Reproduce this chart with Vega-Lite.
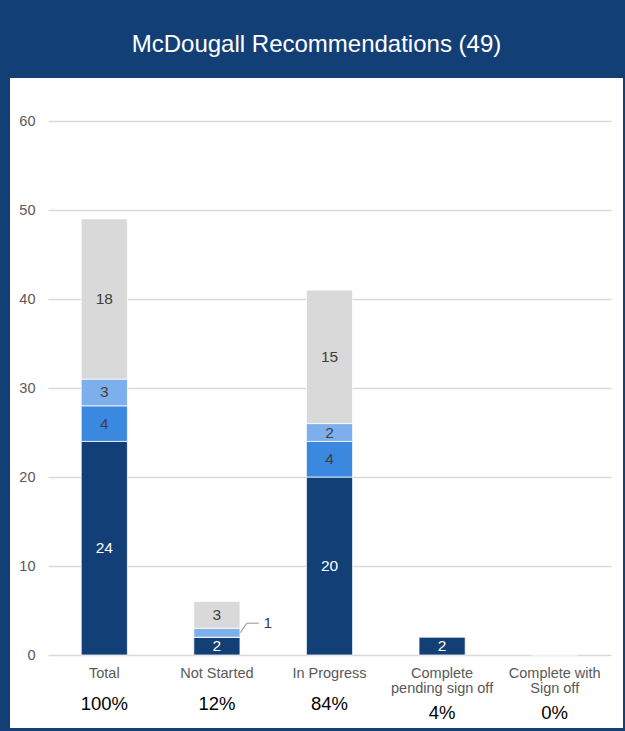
{
  "$schema": "https://vega.github.io/schema/vega-lite/v6.json",
  "width": 613,
  "height": 650,
  "autosize": {"type": "none"},
  "padding": {"left": 10, "top": 78, "right": 2, "bottom": 3},
  "background": "#133F77",
  "config": {
    "font": "Liberation Sans",
    "view": {"fill": "white", "stroke": null}
  },
  "title": {
    "text": "McDougall Recommendations (49)",
    "color": "white",
    "fontSize": 24,
    "fontWeight": "normal",
    "anchor": "middle",
    "baseline": "alphabetic",
    "offset": 2
  },
  "datasets": {
    "counts": [
      {"category": "Total", "series": "Series 1", "value": 24},
      {"category": "Total", "series": "Series 2", "value": 4},
      {"category": "Total", "series": "Series 3", "value": 3},
      {"category": "Total", "series": "Series 4", "value": 18},
      {"category": "Not Started", "series": "Series 1", "value": 2},
      {"category": "Not Started", "series": "Series 2", "value": 0},
      {"category": "Not Started", "series": "Series 3", "value": 1},
      {"category": "Not Started", "series": "Series 4", "value": 3},
      {"category": "In Progress", "series": "Series 1", "value": 20},
      {"category": "In Progress", "series": "Series 2", "value": 4},
      {"category": "In Progress", "series": "Series 3", "value": 2},
      {"category": "In Progress", "series": "Series 4", "value": 15},
      {"category": "Complete pending sign off", "series": "Series 1", "value": 2},
      {"category": "Complete with Sign off", "series": "Series 1", "value": 0}
    ],
    "share": [
      {"category": "Total", "pct": "100%"},
      {"category": "Not Started", "pct": "12%"},
      {"category": "In Progress", "pct": "84%"},
      {"category": "Complete pending sign off", "pct": "4%"},
      {"category": "Complete with Sign off", "pct": "0%"}
    ]
  },
  "data": {"name": "counts"},
  "layer": [
    {
      "mark": {"type": "bar", "stroke": "white", "strokeWidth": 0.75},
      "encoding": {
        "x": {
          "field": "category",
          "type": "nominal",
          "scale": {
            "domain": ["Total", "Not Started", "In Progress", "Complete pending sign off", "Complete with Sign off"],
            "range": [38, 601],
            "paddingInner": 0.59,
            "paddingOuter": 0.295
          },
          "axis": {
            "orient": "bottom",
            "offset": -73,
            "title": null,
            "domain": false,
            "ticks": false,
            "tickSize": 0,
            "grid": false,
            "labelAngle": 0,
            "labelPadding": 11,
            "labelFontSize": 14.5,
            "labelColor": "#595959",
            "labelLineHeight": 15.5,
            "labelExpr": "datum.value == 'Complete pending sign off' ? ['Complete', 'pending sign off'] : datum.value == 'Complete with Sign off' ? ['Complete with', 'Sign off'] : datum.value"
          }
        },
        "y": {
          "field": "value",
          "type": "quantitative",
          "stack": "zero",
          "scale": {"domain": [0, 60], "range": [577, 43], "nice": false, "zero": true},
          "axis": {
            "orient": "left",
            "offset": -38,
            "title": null,
            "values": [0, 10, 20, 30, 40, 50, 60],
            "grid": true,
            "gridColor": "#D9D9D9",
            "gridWidth": 1.5,
            "domain": false,
            "ticks": false,
            "tickSize": 0,
            "labelPadding": 13,
            "labelFontSize": 14.5,
            "labelColor": "#595959"
          }
        },
        "color": {
          "field": "series",
          "type": "nominal",
          "scale": {
            "domain": ["Series 1", "Series 2", "Series 3", "Series 4"],
            "range": ["#133F77", "#3B88E0", "#7CAFEC", "#D9D9D9"]
          },
          "legend": null
        },
        "order": {"field": "series", "sort": "ascending"}
      }
    },
    {
      "mark": {"type": "text", "fontSize": 15.5, "baseline": "middle"},
      "encoding": {
        "x": {"field": "category", "type": "nominal"},
        "y": {"field": "value", "type": "quantitative", "stack": "zero", "bandPosition": 0.5},
        "detail": {"field": "series"},
        "order": {"field": "series", "sort": "ascending"},
        "text": {"condition": {"test": "datum.value > 1", "field": "value", "type": "quantitative"}, "value": ""},
        "color": {"condition": {"test": "datum.series == 'Series 1'", "value": "white"}, "value": "#404040"}
      }
    },
    {
      "transform": [
        {"stack": "value", "groupby": ["category"], "sort": [{"field": "series", "order": "ascending"}], "as": ["v0", "v1"]},
        {"filter": "datum.value == 1"}
      ],
      "layer": [
        {
          "mark": {"type": "rule", "color": "#A6A6A6", "strokeWidth": 1.2, "xOffset": 23.5, "x2Offset": 30, "yOffset": -4.5, "y2Offset": -14},
          "encoding": {
            "x": {"field": "category", "type": "nominal"},
            "x2": {"field": "category"},
            "y": {"field": "v0", "type": "quantitative"},
            "y2": {"field": "v0"}
          }
        },
        {
          "mark": {"type": "rule", "color": "#A6A6A6", "strokeWidth": 1.2, "xOffset": 30, "x2Offset": 42, "yOffset": -14, "y2Offset": -14},
          "encoding": {
            "x": {"field": "category", "type": "nominal"},
            "x2": {"field": "category"},
            "y": {"field": "v0", "type": "quantitative"},
            "y2": {"field": "v0"}
          }
        },
        {
          "mark": {"type": "text", "fontSize": 15.5, "color": "#404040", "baseline": "middle", "dx": 51, "dy": -14},
          "encoding": {
            "x": {"field": "category", "type": "nominal"},
            "y": {"field": "v0", "type": "quantitative"},
            "text": {"field": "value", "type": "quantitative"}
          }
        }
      ]
    },
    {
      "data": {"name": "share"},
      "transform": [{"filter": "indexof(datum.category, 'Complete') < 0"}],
      "mark": {"type": "text", "fontSize": 18.5, "color": "#000000", "baseline": "alphabetic", "dy": 55},
      "encoding": {
        "x": {"field": "category", "type": "nominal"},
        "y": {"datum": 0},
        "text": {"field": "pct", "type": "nominal"}
      }
    },
    {
      "data": {"name": "share"},
      "transform": [{"filter": "indexof(datum.category, 'Complete') >= 0"}],
      "mark": {"type": "text", "fontSize": 18.5, "color": "#000000", "baseline": "alphabetic", "dy": 64},
      "encoding": {
        "x": {"field": "category", "type": "nominal"},
        "y": {"datum": 0},
        "text": {"field": "pct", "type": "nominal"}
      }
    }
  ]
}
